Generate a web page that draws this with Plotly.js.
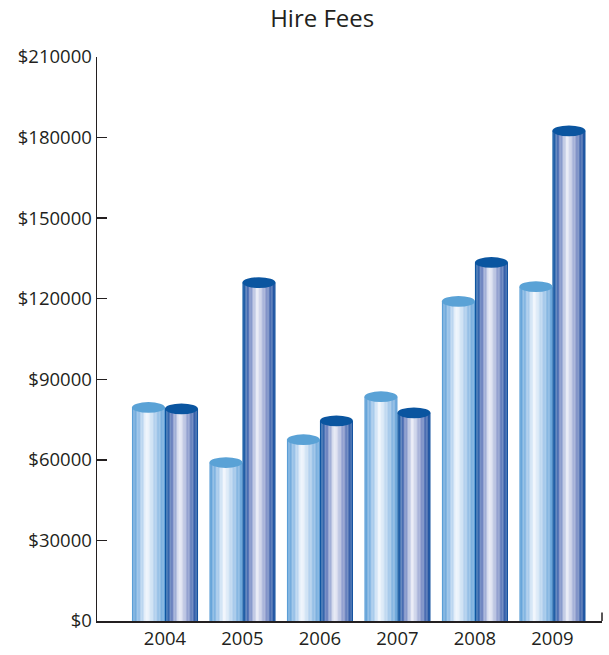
<!DOCTYPE html>
<html>
<head>
<meta charset="utf-8">
<script src="https://cdn.plot.ly/plotly-3.0.1.min.js"></script>
<style>html,body{margin:0;padding:0;background:#fff;}#chart{width:609px;height:655px;}</style>
</head>
<body>
<div id="chart"></div>
<script>
const years = ["2004", "2005", "2006", "2007", "2008", "2009"];
const seriesA = [79500, 59000, 67500, 83500, 119000, 124500];
const seriesB = [79000, 126000, 74500, 77500, 133500, 182500];
const yTicks = [0, 30000, 60000, 90000, 120000, 150000, 180000, 210000];
const yTickText = ["$0", "$30000", "$60000", "$90000", "$120000", "$150000", "$180000", "$210000"];

const gradA = [[0, [84,154,212]], [0.25, [160,198,234]], [0.45, [244,248,253]], [0.7, [176,207,237]], [1, [96,160,216]]];
const gradB = [[0, [4,82,158]], [0.2, [96,120,186]], [0.45, [238,240,248]], [0.72, [134,150,202]], [0.93, [40,86,164]], [1, [14,82,158]]];
const topA = "#5aa2d6";
const topB = "#0a55a0";

function colAt(grad, t) {
  for (let i = 1; i < grad.length; i++) {
    if (t <= grad[i][0]) {
      const a = grad[i-1], b = grad[i];
      const f = (t - a[0]) / (b[0] - a[0]);
      const c = a[1].map((v, k) => Math.round(v + (b[1][k] - v) * f));
      return `rgb(${c[0]},${c[1]},${c[2]})`;
    }
  }
  const c = grad[grad.length-1][1];
  return `rgb(${c[0]},${c[1]},${c[2]})`;
}

const W = 0.426;      // bar width in category units
const N = 24;         // strips per bar
const traces = [];
function addSeries(vals, grad, base, name) {
  for (let i = 0; i < N; i++) {
    traces.push({
      type: "bar", x: years, y: vals, name: name,
      width: W / N * 1.05, offset: base + i * W / N,
      marker: {color: colAt(grad, (i + 0.5) / N), line: {width: 0}},
      showlegend: false, hoverinfo: "skip"
    });
  }
}
addSeries(seriesA, gradA, -W, "A");
addSeries(seriesB, gradB, 0, "B");

const ellH = 4000;
const shapes = [];
years.forEach((yr, i) => {
  shapes.push({type: "circle", xref: "x", yref: "y", x0: i - W, x1: i, y0: seriesA[i] - ellH/2, y1: seriesA[i] + ellH/2, fillcolor: topA, line: {width: 0}});
  shapes.push({type: "circle", xref: "x", yref: "y", x0: i, x1: i + W, y0: seriesB[i] - ellH/2, y1: seriesB[i] + ellH/2, fillcolor: topB, line: {width: 0}});
});
shapes.push({type: "line", xref: "paper", yref: "y", x0: 1, x1: 1, y0: 0, y1: 3200, line: {color: "#231f20", width: 1.5}});

const layout = {
  width: 609, height: 655,
  margin: {l: 97, r: 7, t: 57, b: 34},
  paper_bgcolor: "#fff", plot_bgcolor: "#fff",
  font: {family: "Open Sans, sans-serif", color: "#231f20", size: 19},
  title: {text: "Hire Fees", font: {size: 24, color: "#231f20"}, x: 0.529, xref: "container", xanchor: "center", y: 0.971, yref: "container", yanchor: "middle"},
  barmode: "overlay",
  showlegend: false,
  xaxis: {type: "category", range: [-0.877, 5.64], showline: true, linecolor: "#231f20", linewidth: 1.5, ticks: "", showgrid: false, zeroline: false, tickfont: {size: 18.5}},
  yaxis: {range: [0, 210000], tickvals: yTicks, ticktext: yTickText, showline: true, linecolor: "#231f20", linewidth: 1.5, ticks: "inside", ticklen: 10, tickwidth: 1.5, tickcolor: "#231f20", showgrid: false, zeroline: false, tickfont: {size: 18.5}},
  shapes: shapes
};
Plotly.newPlot("chart", traces, layout, {displayModeBar: false, staticPlot: true});
</script>
</body>
</html>
